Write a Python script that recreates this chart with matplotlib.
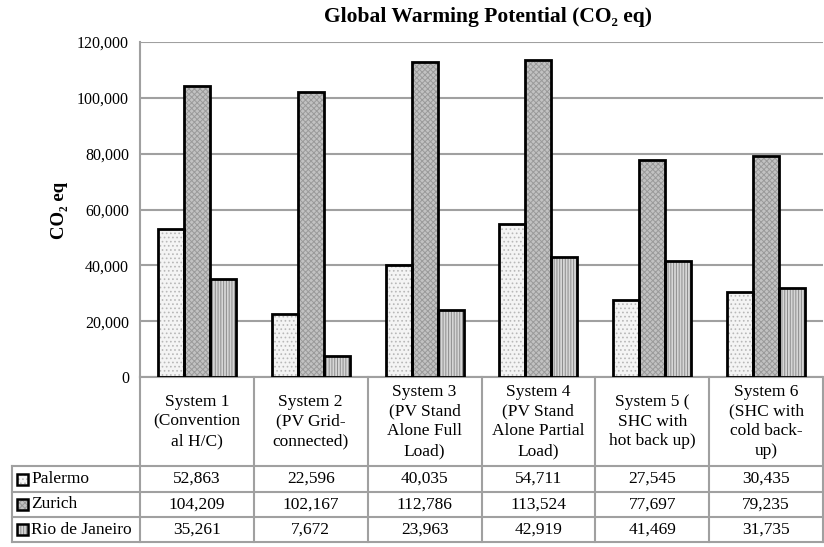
import matplotlib.pyplot as plt
from matplotlib.patches import Rectangle
from matplotlib.transforms import blended_transform_factory

plt.rcParams['font.family'] = ['Liberation Serif', 'DejaVu Serif']
plt.rcParams['hatch.linewidth'] = 0.7

systems = [
    "System 1\n(Convention\nal H/C)",
    "System 2\n(PV Grid-\nconnected)",
    "System 3\n(PV Stand\nAlone Full\nLoad)",
    "System 4\n(PV Stand\nAlone Partial\nLoad)",
    "System 5 (\nSHC with\nhot back up)",
    "System 6\n(SHC with\ncold back-\nup)",
]
cities = ["Palermo", "Zurich", "Rio de Janeiro"]
palermo = [52863, 22596, 40035, 54711, 27545, 30435]
zurich = [104209, 102167, 112786, 113524, 77697, 79235]
rio = [35261, 7672, 23963, 42919, 41469, 31735]
yticks = [0, 20000, 40000, 60000, 80000, 100000, 120000]

series = [palermo, zurich, rio]
# (face, hatch colour, hatch) per city
styles = [("#f4f4f4", "#b8b8b8", "...."),
          ("#c2c2c2", "#9a9a9a", "xxxxxx"),
          ("#d6d6d6", "#8c8c8c", "||||||")]
grid_c = "#a0a0a0"
tfs = 12.5

fig = plt.figure(figsize=(8.24, 5.47), dpi=100)
W, H = 824, 547
ax = fig.add_axes([140 / W, 1 - 377 / H, 683 / W, 335 / H])

n = len(systems)
width = 0.228
xs = list(range(n))
for k, (vals, (face, hc, hatch)) in enumerate(zip(series, styles)):
    pos = [x + (k - 1) * width for x in xs]
    ax.bar(pos, vals, width, color=face, edgecolor=hc, hatch=hatch, linewidth=0, zorder=2)
    ax.bar(pos, vals, width, fill=False, edgecolor="black", linewidth=2, zorder=3)

ax.set_xlim(-0.5, n - 0.5)
ax.set_ylim(0, 120000)
ax.set_yticks(yticks)
ax.set_yticklabels([f"{v:,}" for v in yticks], fontsize=11.5)
ax.set_xticks([])
ax.tick_params(axis="y", length=0, pad=8)
ax.yaxis.grid(True, color=grid_c, linewidth=1.5, zorder=0)
ax.set_axisbelow(True)
for s in ["top", "right"]:
    ax.spines[s].set_visible(False)
for s in ["left", "bottom"]:
    ax.spines[s].set_color(grid_c)
    ax.spines[s].set_linewidth(1.5)

fig.text(488 / W, 1 - 17 / H, "Global Warming Potential (CO₂ eq)",
         ha="center", va="center", fontsize=15.5, fontweight="bold")
fig.text(59 / W, 1 - 210 / H, "CO₂ eq", rotation=90, ha="center", va="center",
         fontsize=13.5, fontweight="bold")

# data table under the plot
tr = blended_transform_factory(ax.transData, ax.transAxes)
ta = ax.transAxes
px_h = 335.0
row_y = [0, -89 / px_h, -115 / px_h, -140 / px_h, -165 / px_h]
left_x = (12 - 140) / 683.0
lk = dict(color=grid_c, linewidth=1.5, clip_on=False, zorder=1)

for k in range(n + 1):
    ax.plot([k - 0.5, k - 0.5], [0, row_y[-1]], transform=tr, **lk)
ax.plot([left_x, left_x], [row_y[1], row_y[-1]], transform=ta, **lk)
for y in row_y[1:]:
    ax.plot([left_x, 1], [y, y], transform=ta, **lk)

for i, label in enumerate(systems):
    ax.text(i, row_y[1] / 2, label, transform=tr, ha="center", va="center",
            fontsize=tfs, linespacing=1.3)

for r, (city, vals, (face, hc, hatch)) in enumerate(zip(cities, series, styles)):
    yc = (row_y[r + 1] + row_y[r + 2]) / 2
    for i, v in enumerate(vals):
        ax.text(i, yc, f"{v:,}", transform=tr, ha="center", va="center", fontsize=tfs)
    sw = 11 / 683.0
    sh = 11 / px_h
    x0 = (17 - 140) / 683.0
    ax.add_patch(Rectangle((x0, yc - sh / 2), sw, sh, transform=ta, facecolor=face,
                           edgecolor=hc, hatch=hatch, linewidth=0, clip_on=False))
    ax.add_patch(Rectangle((x0, yc - sh / 2), sw, sh, transform=ta, fill=False,
                           edgecolor="black", linewidth=1.8, clip_on=False))
    ax.text((31 - 140) / 683.0, yc, city, transform=ta, ha="left", va="center", fontsize=tfs)

fig.savefig("out.png", dpi=100)
